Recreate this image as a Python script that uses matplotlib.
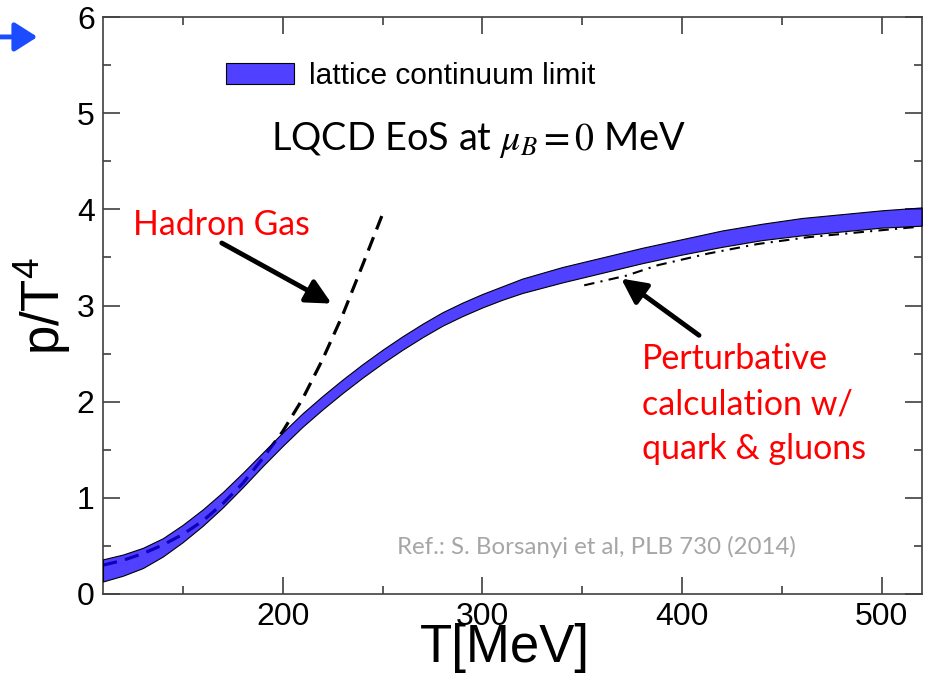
import matplotlib as mpl
mpl.use("Agg")
import matplotlib.pyplot as plt
from matplotlib.ticker import MultipleLocator

# lattice continuum band, p/T^4 vs T
T_band = [110, 120, 130, 140, 150, 160, 170, 180, 190, 200, 210, 220, 230, 240,
          250, 260, 270, 280, 290, 300, 310, 320, 340, 360, 380, 400, 420, 440,
          460, 480, 500, 520]
band_hi = [0.36, 0.41, 0.48, 0.58, 0.72, 0.88, 1.06, 1.26, 1.47, 1.68, 1.88, 2.06,
           2.23, 2.39, 2.54, 2.68, 2.81, 2.93, 3.03, 3.12, 3.20, 3.28, 3.40, 3.50,
           3.60, 3.69, 3.78, 3.85, 3.91, 3.95, 3.99, 4.02]
band_lo = [0.13, 0.19, 0.27, 0.39, 0.54, 0.71, 0.90, 1.11, 1.33, 1.54, 1.74, 1.92,
           2.09, 2.25, 2.40, 2.54, 2.67, 2.79, 2.89, 2.98, 3.06, 3.13, 3.24, 3.34,
           3.44, 3.53, 3.61, 3.68, 3.73, 3.77, 3.81, 3.83]

# hadron resonance gas
T_hrg = [110, 120, 130, 140, 150, 160, 170, 180, 190, 200, 210, 220, 230, 240, 250]
p_hrg = [0.30, 0.35, 0.42, 0.51, 0.62, 0.76, 0.94, 1.15, 1.41, 1.69, 2.03, 2.44,
         2.90, 3.42, 3.95]

# perturbative QCD
T_pert = [351, 372, 388, 413, 438, 463, 488, 519]
p_pert = [3.21, 3.31, 3.42, 3.54, 3.64, 3.71, 3.76, 3.82]

x_major = [200, 300, 400, 500]
y_major = [0, 1, 2, 3, 4, 5, 6]

fig = plt.figure(figsize=(9.36, 6.84), dpi=100)
ax = fig.add_axes([0.110, 0.1316, 0.8747, 0.8435])

ax.plot(T_hrg, p_hrg, color="black", lw=2.3, dashes=(4.5, 2.6), zorder=2)
ax.fill_between(T_band, band_lo, band_hi, facecolor=(0.085, 0.0, 1.0, 0.75),
                edgecolor="black", lw=0.8, zorder=3, label="lattice continuum limit")
ax.plot(T_pert, p_pert, color="black", lw=1.5, dashes=(5, 3, 1, 3), zorder=4)

ax.set_xlim(110, 520)
ax.set_ylim(0, 6)
ax.set_xticks(x_major)
ax.set_yticks(y_major)
ax.xaxis.set_minor_locator(MultipleLocator(50))
ax.yaxis.set_minor_locator(MultipleLocator(0.5))

for s in ax.spines.values():
    s.set_color("#404040")
    s.set_linewidth(1.2)
ax.tick_params(which="both", direction="in", top=True, right=True,
               color="#404040", width=1.2)
ax.tick_params(which="major", length=12, labelsize=23, pad=6)
ax.tick_params(which="minor", length=6)
for lab in ax.get_xticklabels() + ax.get_yticklabels():
    lab.set_fontfamily("Liberation Sans")

ax.set_xlabel("T[MeV]", fontsize=38, family="Liberation Sans")
ax.xaxis.set_label_coords(0.491, -0.05)
ax.set_ylabel(r"p/T$^{\mathregular{4}}$", fontsize=38, family="Liberation Sans",
              labelpad=3)

ax.legend(loc="center left", bbox_to_anchor=(0.150, 0.8986), frameon=False,
          prop={"family": "Liberation Sans", "size": 21.5}, borderpad=0,
          borderaxespad=0, handlelength=2.3, handleheight=0.7, handletextpad=0.5)

ax.text(194, 4.62, r"LQCD EoS at $\mu_B = 0$ MeV", fontsize=27.3, family="Lato",
        math_fontfamily="stix", va="baseline")

ax.text(125, 3.73, "Hadron Gas", color="red", fontsize=24.3, family="Lato",
        va="baseline")
ax.text(380, 2.61, "Perturbative\ncalculation w/\nquark & gluons", color="red",
        fontsize=24.5, family="Lato", va="top", linespacing=1.5)
ax.text(357, 0.49, "Ref.: S. Borsanyi et al, PLB 730 (2014)", color="#a6a6a6",
        fontsize=17.3, family="Lato", ha="center", va="center")

arrow = dict(arrowstyle="-|>,head_length=0.5,head_width=0.25", color="black",
             lw=3.5, mutation_scale=30, shrinkA=0, shrinkB=0)
ax.annotate("", xy=(224.5, 3.02), xytext=(169.5, 3.65), arrowprops=arrow)
ax.annotate("", xy=(369.5, 3.28), xytext=(408.5, 2.69), arrowprops=arrow)

# blue pointer at the top-left corner
fig.add_artist(plt.Annotation(
    "", xy=(0.040, 0.946), xytext=(0.0, 0.946), xycoords="figure fraction",
    arrowprops=dict(arrowstyle="-|>,head_length=0.55,head_width=0.35",
                    color="#1c4cff", lw=3.5, mutation_scale=25,
                    shrinkA=0, shrinkB=0)))

fig.savefig("out.png", dpi=100)
